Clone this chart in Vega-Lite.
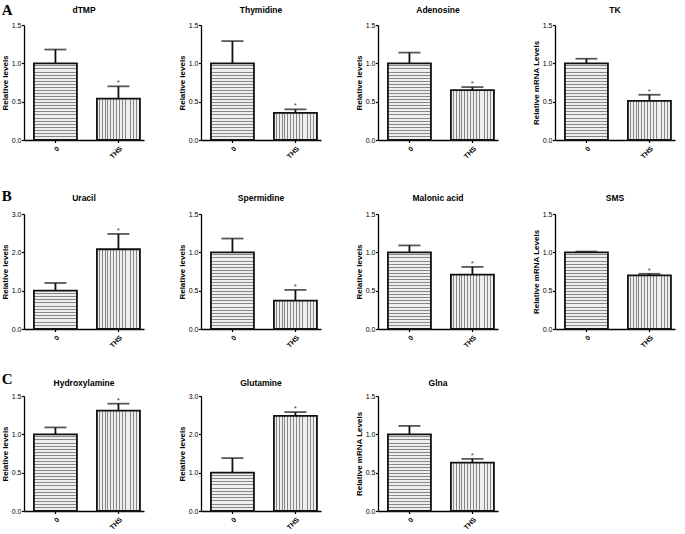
{
"$schema":"https://vega.github.io/schema/vega-lite/v6.json",
"background":"white",
"padding":{"left":1,"top":2,"right":2,"bottom":1},
"params":[
{"name":"h25","value":{"gradient":"linear","x1":0,"y1":0,"x2":0,"y2":1,"stops":[
{"offset":0,"color":"#eee"},{"offset":0.027,"color":"#eee"},{"offset":0.027,"color":"#888"},{"offset":0.04,"color":"#888"},
{"offset":0.04,"color":"#eee"},{"offset":0.067,"color":"#eee"},{"offset":0.067,"color":"#888"},{"offset":0.08,"color":"#888"},
{"offset":0.08,"color":"#eee"},{"offset":0.107,"color":"#eee"},{"offset":0.107,"color":"#888"},{"offset":0.12,"color":"#888"},
{"offset":0.12,"color":"#eee"},{"offset":0.147,"color":"#eee"},{"offset":0.147,"color":"#888"},{"offset":0.16,"color":"#888"},
{"offset":0.16,"color":"#eee"},{"offset":0.187,"color":"#eee"},{"offset":0.187,"color":"#888"},{"offset":0.2,"color":"#888"},
{"offset":0.2,"color":"#eee"},{"offset":0.227,"color":"#eee"},{"offset":0.227,"color":"#888"},{"offset":0.24,"color":"#888"},
{"offset":0.24,"color":"#eee"},{"offset":0.267,"color":"#eee"},{"offset":0.267,"color":"#888"},{"offset":0.28,"color":"#888"},
{"offset":0.28,"color":"#eee"},{"offset":0.307,"color":"#eee"},{"offset":0.307,"color":"#888"},{"offset":0.32,"color":"#888"},
{"offset":0.32,"color":"#eee"},{"offset":0.347,"color":"#eee"},{"offset":0.347,"color":"#888"},{"offset":0.36,"color":"#888"},
{"offset":0.36,"color":"#eee"},{"offset":0.387,"color":"#eee"},{"offset":0.387,"color":"#888"},{"offset":0.4,"color":"#888"},
{"offset":0.4,"color":"#eee"},{"offset":0.427,"color":"#eee"},{"offset":0.427,"color":"#888"},{"offset":0.44,"color":"#888"},
{"offset":0.44,"color":"#eee"},{"offset":0.467,"color":"#eee"},{"offset":0.467,"color":"#888"},{"offset":0.48,"color":"#888"},
{"offset":0.48,"color":"#eee"},{"offset":0.507,"color":"#eee"},{"offset":0.507,"color":"#888"},{"offset":0.52,"color":"#888"},
{"offset":0.52,"color":"#eee"},{"offset":0.547,"color":"#eee"},{"offset":0.547,"color":"#888"},{"offset":0.56,"color":"#888"},
{"offset":0.56,"color":"#eee"},{"offset":0.587,"color":"#eee"},{"offset":0.587,"color":"#888"},{"offset":0.6,"color":"#888"},
{"offset":0.6,"color":"#eee"},{"offset":0.627,"color":"#eee"},{"offset":0.627,"color":"#888"},{"offset":0.64,"color":"#888"},
{"offset":0.64,"color":"#eee"},{"offset":0.667,"color":"#eee"},{"offset":0.667,"color":"#888"},{"offset":0.68,"color":"#888"},
{"offset":0.68,"color":"#eee"},{"offset":0.707,"color":"#eee"},{"offset":0.707,"color":"#888"},{"offset":0.72,"color":"#888"},
{"offset":0.72,"color":"#eee"},{"offset":0.747,"color":"#eee"},{"offset":0.747,"color":"#888"},{"offset":0.76,"color":"#888"},
{"offset":0.76,"color":"#eee"},{"offset":0.787,"color":"#eee"},{"offset":0.787,"color":"#888"},{"offset":0.8,"color":"#888"},
{"offset":0.8,"color":"#eee"},{"offset":0.827,"color":"#eee"},{"offset":0.827,"color":"#888"},{"offset":0.84,"color":"#888"},
{"offset":0.84,"color":"#eee"},{"offset":0.867,"color":"#eee"},{"offset":0.867,"color":"#888"},{"offset":0.88,"color":"#888"},
{"offset":0.88,"color":"#eee"},{"offset":0.907,"color":"#eee"},{"offset":0.907,"color":"#888"},{"offset":0.92,"color":"#888"},
{"offset":0.92,"color":"#eee"},{"offset":0.947,"color":"#eee"},{"offset":0.947,"color":"#888"},{"offset":0.96,"color":"#888"},
{"offset":0.96,"color":"#eee"},{"offset":0.987,"color":"#eee"},{"offset":0.987,"color":"#888"},{"offset":1,"color":"#888"}]}},
{"name":"h12","value":{"gradient":"linear","x1":0,"y1":0,"x2":0,"y2":1,"stops":[
{"offset":0,"color":"#eee"},{"offset":0.056,"color":"#eee"},{"offset":0.056,"color":"#888"},{"offset":0.083,"color":"#888"},
{"offset":0.083,"color":"#eee"},{"offset":0.139,"color":"#eee"},{"offset":0.139,"color":"#888"},{"offset":0.167,"color":"#888"},
{"offset":0.167,"color":"#eee"},{"offset":0.222,"color":"#eee"},{"offset":0.222,"color":"#888"},{"offset":0.25,"color":"#888"},
{"offset":0.25,"color":"#eee"},{"offset":0.306,"color":"#eee"},{"offset":0.306,"color":"#888"},{"offset":0.333,"color":"#888"},
{"offset":0.333,"color":"#eee"},{"offset":0.389,"color":"#eee"},{"offset":0.389,"color":"#888"},{"offset":0.417,"color":"#888"},
{"offset":0.417,"color":"#eee"},{"offset":0.472,"color":"#eee"},{"offset":0.472,"color":"#888"},{"offset":0.5,"color":"#888"},
{"offset":0.5,"color":"#eee"},{"offset":0.556,"color":"#eee"},{"offset":0.556,"color":"#888"},{"offset":0.583,"color":"#888"},
{"offset":0.583,"color":"#eee"},{"offset":0.639,"color":"#eee"},{"offset":0.639,"color":"#888"},{"offset":0.667,"color":"#888"},
{"offset":0.667,"color":"#eee"},{"offset":0.722,"color":"#eee"},{"offset":0.722,"color":"#888"},{"offset":0.75,"color":"#888"},
{"offset":0.75,"color":"#eee"},{"offset":0.806,"color":"#eee"},{"offset":0.806,"color":"#888"},{"offset":0.833,"color":"#888"},
{"offset":0.833,"color":"#eee"},{"offset":0.889,"color":"#eee"},{"offset":0.889,"color":"#888"},{"offset":0.917,"color":"#888"},
{"offset":0.917,"color":"#eee"},{"offset":0.972,"color":"#eee"},{"offset":0.972,"color":"#888"},{"offset":1,"color":"#888"}]}},
{"name":"v15","value":{"gradient":"linear","x1":0,"y1":0,"x2":1,"y2":0,"stops":[
{"offset":0,"color":"#eee"},{"offset":0.044,"color":"#eee"},{"offset":0.044,"color":"#888"},{"offset":0.067,"color":"#888"},
{"offset":0.067,"color":"#eee"},{"offset":0.111,"color":"#eee"},{"offset":0.111,"color":"#888"},{"offset":0.133,"color":"#888"},
{"offset":0.133,"color":"#eee"},{"offset":0.178,"color":"#eee"},{"offset":0.178,"color":"#888"},{"offset":0.2,"color":"#888"},
{"offset":0.2,"color":"#eee"},{"offset":0.244,"color":"#eee"},{"offset":0.244,"color":"#888"},{"offset":0.267,"color":"#888"},
{"offset":0.267,"color":"#eee"},{"offset":0.311,"color":"#eee"},{"offset":0.311,"color":"#888"},{"offset":0.333,"color":"#888"},
{"offset":0.333,"color":"#eee"},{"offset":0.378,"color":"#eee"},{"offset":0.378,"color":"#888"},{"offset":0.4,"color":"#888"},
{"offset":0.4,"color":"#eee"},{"offset":0.444,"color":"#eee"},{"offset":0.444,"color":"#888"},{"offset":0.467,"color":"#888"},
{"offset":0.467,"color":"#eee"},{"offset":0.511,"color":"#eee"},{"offset":0.511,"color":"#888"},{"offset":0.533,"color":"#888"},
{"offset":0.533,"color":"#eee"},{"offset":0.578,"color":"#eee"},{"offset":0.578,"color":"#888"},{"offset":0.6,"color":"#888"},
{"offset":0.6,"color":"#eee"},{"offset":0.644,"color":"#eee"},{"offset":0.644,"color":"#888"},{"offset":0.667,"color":"#888"},
{"offset":0.667,"color":"#eee"},{"offset":0.711,"color":"#eee"},{"offset":0.711,"color":"#888"},{"offset":0.733,"color":"#888"},
{"offset":0.733,"color":"#eee"},{"offset":0.778,"color":"#eee"},{"offset":0.778,"color":"#888"},{"offset":0.8,"color":"#888"},
{"offset":0.8,"color":"#eee"},{"offset":0.844,"color":"#eee"},{"offset":0.844,"color":"#888"},{"offset":0.867,"color":"#888"},
{"offset":0.867,"color":"#eee"},{"offset":0.911,"color":"#eee"},{"offset":0.911,"color":"#888"},{"offset":0.933,"color":"#888"},
{"offset":0.933,"color":"#eee"},{"offset":0.978,"color":"#eee"},{"offset":0.978,"color":"#888"},{"offset":1,"color":"#888"}]}}
],
"data":{"values":[
{"panel":"dTMP","group":"0","value":1.0,"upper":1.18,"sig":""},
{"panel":"dTMP","group":"THS","value":0.54,"upper":0.70,"sig":"*"},
{"panel":"Thymidine","group":"0","value":1.0,"upper":1.29,"sig":""},
{"panel":"Thymidine","group":"THS","value":0.355,"upper":0.40,"sig":"*"},
{"panel":"Adenosine","group":"0","value":1.0,"upper":1.14,"sig":""},
{"panel":"Adenosine","group":"THS","value":0.65,"upper":0.69,"sig":"*"},
{"panel":"TK","group":"0","value":1.0,"upper":1.06,"sig":""},
{"panel":"TK","group":"THS","value":0.51,"upper":0.59,"sig":"*"},
{"panel":"Uracil","group":"0","value":1.0,"upper":1.2,"sig":""},
{"panel":"Uracil","group":"THS","value":2.08,"upper":2.48,"sig":"*"},
{"panel":"Spermidine","group":"0","value":1.0,"upper":1.18,"sig":""},
{"panel":"Spermidine","group":"THS","value":0.37,"upper":0.51,"sig":"*"},
{"panel":"Malonic acid","group":"0","value":1.0,"upper":1.09,"sig":""},
{"panel":"Malonic acid","group":"THS","value":0.71,"upper":0.81,"sig":"*"},
{"panel":"SMS","group":"0","value":1.0,"upper":1.01,"sig":""},
{"panel":"SMS","group":"THS","value":0.70,"upper":0.72,"sig":"*"},
{"panel":"Hydroxylamine","group":"0","value":1.0,"upper":1.09,"sig":""},
{"panel":"Hydroxylamine","group":"THS","value":1.31,"upper":1.40,"sig":"*"},
{"panel":"Glutamine","group":"0","value":1.0,"upper":1.38,"sig":""},
{"panel":"Glutamine","group":"THS","value":2.48,"upper":2.58,"sig":"*"},
{"panel":"Glna","group":"0","value":1.0,"upper":1.11,"sig":""},
{"panel":"Glna","group":"THS","value":0.63,"upper":0.68,"sig":"*"}
]},
"spacing":28,
"vconcat":[
{"title":{"text":"A","anchor":"start","frame":"bounds","font":"Liberation Serif","fontSize":15,"fontWeight":"bold","offset":0,"dy":12},
 "spacing":34,
 "hconcat":[
  {"title":{"text":"dTMP","offset":7},"width":120,"height":115,"transform":[{"filter":"datum.panel=='dTMP'"}],
   "encoding":{"x":{"field":"group","type":"nominal","title":null,"scale":{"align":0.71}},
     "y":{"field":"value","type":"quantitative","title":"Relative levels","scale":{"domain":[0,1.5],"nice":false}}},
   "layer":[
    {"transform":[{"filter":"datum.group=='0'"}],"mark":{"type":"bar","fill":{"expr":"h25"}}},
    {"transform":[{"filter":"datum.group=='THS'"}],"mark":{"type":"bar","fill":{"expr":"v15"}}},
    {"mark":"rule","encoding":{"y2":{"field":"upper"}}},
    {"mark":{"type":"tick","size":22},"encoding":{"y":{"field":"upper","type":"quantitative"}}},
    {"mark":"text","encoding":{"y":{"field":"upper","type":"quantitative"},"text":{"field":"sig"}}}]},
  {"title":{"text":"Thymidine","offset":7},"width":120,"height":115,"transform":[{"filter":"datum.panel=='Thymidine'"}],
   "encoding":{"x":{"field":"group","type":"nominal","title":null,"scale":{"align":0.71}},
     "y":{"field":"value","type":"quantitative","title":"Relative levels","scale":{"domain":[0,1.5],"nice":false}}},
   "layer":[
    {"transform":[{"filter":"datum.group=='0'"}],"mark":{"type":"bar","fill":{"expr":"h25"}}},
    {"transform":[{"filter":"datum.group=='THS'"}],"mark":{"type":"bar","fill":{"expr":"v15"}}},
    {"mark":"rule","encoding":{"y2":{"field":"upper"}}},
    {"mark":{"type":"tick","size":22},"encoding":{"y":{"field":"upper","type":"quantitative"}}},
    {"mark":"text","encoding":{"y":{"field":"upper","type":"quantitative"},"text":{"field":"sig"}}}]},
  {"title":{"text":"Adenosine","offset":7},"width":120,"height":115,"transform":[{"filter":"datum.panel=='Adenosine'"}],
   "encoding":{"x":{"field":"group","type":"nominal","title":null,"scale":{"align":0.71}},
     "y":{"field":"value","type":"quantitative","title":"Relative levels","scale":{"domain":[0,1.5],"nice":false}}},
   "layer":[
    {"transform":[{"filter":"datum.group=='0'"}],"mark":{"type":"bar","fill":{"expr":"h25"}}},
    {"transform":[{"filter":"datum.group=='THS'"}],"mark":{"type":"bar","fill":{"expr":"v15"}}},
    {"mark":"rule","encoding":{"y2":{"field":"upper"}}},
    {"mark":{"type":"tick","size":22},"encoding":{"y":{"field":"upper","type":"quantitative"}}},
    {"mark":"text","encoding":{"y":{"field":"upper","type":"quantitative"},"text":{"field":"sig"}}}]},
  {"title":{"text":"TK","offset":7},"width":120,"height":115,"transform":[{"filter":"datum.panel=='TK'"}],
   "encoding":{"x":{"field":"group","type":"nominal","title":null,"scale":{"align":0.71}},
     "y":{"field":"value","type":"quantitative","title":"Relative mRNA Levels","scale":{"domain":[0,1.5],"nice":false}}},
   "layer":[
    {"transform":[{"filter":"datum.group=='0'"}],"mark":{"type":"bar","fill":{"expr":"h25"}}},
    {"transform":[{"filter":"datum.group=='THS'"}],"mark":{"type":"bar","fill":{"expr":"v15"}}},
    {"mark":"rule","encoding":{"y2":{"field":"upper"}}},
    {"mark":{"type":"tick","size":22},"encoding":{"y":{"field":"upper","type":"quantitative"}}},
    {"mark":"text","encoding":{"y":{"field":"upper","type":"quantitative"},"text":{"field":"sig"}}}]}
 ]},
{"spacing":22,
 "vconcat":[
{"title":{"text":"B","anchor":"start","frame":"bounds","font":"Liberation Serif","fontSize":15,"fontWeight":"bold","offset":0,"dy":10},
 "spacing":34,
 "hconcat":[
  {"title":{"text":"Uracil","offset":8},"width":120,"height":115,"transform":[{"filter":"datum.panel=='Uracil'"}],
   "encoding":{"x":{"field":"group","type":"nominal","title":null,"scale":{"align":0.71}},
     "y":{"field":"value","type":"quantitative","title":"Relative levels","scale":{"domain":[0,3],"nice":false}}},
   "layer":[
    {"transform":[{"filter":"datum.group=='0'"}],"mark":{"type":"bar","fill":{"expr":"h12"}}},
    {"transform":[{"filter":"datum.group=='THS'"}],"mark":{"type":"bar","fill":{"expr":"v15"}}},
    {"mark":"rule","encoding":{"y2":{"field":"upper"}}},
    {"mark":{"type":"tick","size":22},"encoding":{"y":{"field":"upper","type":"quantitative"}}},
    {"mark":"text","encoding":{"y":{"field":"upper","type":"quantitative"},"text":{"field":"sig"}}}]},
  {"title":{"text":"Spermidine","offset":8},"width":120,"height":115,"transform":[{"filter":"datum.panel=='Spermidine'"}],
   "encoding":{"x":{"field":"group","type":"nominal","title":null,"scale":{"align":0.71}},
     "y":{"field":"value","type":"quantitative","title":"Relative levels","scale":{"domain":[0,1.5],"nice":false}}},
   "layer":[
    {"transform":[{"filter":"datum.group=='0'"}],"mark":{"type":"bar","fill":{"expr":"h25"}}},
    {"transform":[{"filter":"datum.group=='THS'"}],"mark":{"type":"bar","fill":{"expr":"v15"}}},
    {"mark":"rule","encoding":{"y2":{"field":"upper"}}},
    {"mark":{"type":"tick","size":22},"encoding":{"y":{"field":"upper","type":"quantitative"}}},
    {"mark":"text","encoding":{"y":{"field":"upper","type":"quantitative"},"text":{"field":"sig"}}}]},
  {"title":{"text":"Malonic acid","offset":8},"width":120,"height":115,"transform":[{"filter":"datum.panel=='Malonic acid'"}],
   "encoding":{"x":{"field":"group","type":"nominal","title":null,"scale":{"align":0.71}},
     "y":{"field":"value","type":"quantitative","title":"Relative levels","scale":{"domain":[0,1.5],"nice":false}}},
   "layer":[
    {"transform":[{"filter":"datum.group=='0'"}],"mark":{"type":"bar","fill":{"expr":"h25"}}},
    {"transform":[{"filter":"datum.group=='THS'"}],"mark":{"type":"bar","fill":{"expr":"v15"}}},
    {"mark":"rule","encoding":{"y2":{"field":"upper"}}},
    {"mark":{"type":"tick","size":22},"encoding":{"y":{"field":"upper","type":"quantitative"}}},
    {"mark":"text","encoding":{"y":{"field":"upper","type":"quantitative"},"text":{"field":"sig"}}}]},
  {"title":{"text":"SMS","offset":8},"width":120,"height":115,"transform":[{"filter":"datum.panel=='SMS'"}],
   "encoding":{"x":{"field":"group","type":"nominal","title":null,"scale":{"align":0.71}},
     "y":{"field":"value","type":"quantitative","title":"Relative mRNA Levels","scale":{"domain":[0,1.5],"nice":false}}},
   "layer":[
    {"transform":[{"filter":"datum.group=='0'"}],"mark":{"type":"bar","fill":{"expr":"h25"}}},
    {"transform":[{"filter":"datum.group=='THS'"}],"mark":{"type":"bar","fill":{"expr":"v15"}}},
    {"mark":"rule","encoding":{"y2":{"field":"upper"}}},
    {"mark":{"type":"tick","size":22},"encoding":{"y":{"field":"upper","type":"quantitative"}}},
    {"mark":"text","encoding":{"y":{"field":"upper","type":"quantitative"},"text":{"field":"sig"}}}]}
 ]},
{"title":{"text":"C","anchor":"start","frame":"bounds","font":"Liberation Serif","fontSize":15,"fontWeight":"bold","offset":0,"dy":8},
 "spacing":34,
 "hconcat":[
  {"title":{"text":"Hydroxylamine","offset":5},"width":120,"height":115,"transform":[{"filter":"datum.panel=='Hydroxylamine'"}],
   "encoding":{"x":{"field":"group","type":"nominal","title":null,"scale":{"align":0.71}},
     "y":{"field":"value","type":"quantitative","title":"Relative levels","scale":{"domain":[0,1.5],"nice":false}}},
   "layer":[
    {"transform":[{"filter":"datum.group=='0'"}],"mark":{"type":"bar","fill":{"expr":"h25"}}},
    {"transform":[{"filter":"datum.group=='THS'"}],"mark":{"type":"bar","fill":{"expr":"v15"}}},
    {"mark":"rule","encoding":{"y2":{"field":"upper"}}},
    {"mark":{"type":"tick","size":22},"encoding":{"y":{"field":"upper","type":"quantitative"}}},
    {"mark":"text","encoding":{"y":{"field":"upper","type":"quantitative"},"text":{"field":"sig"}}}]},
  {"title":{"text":"Glutamine","offset":5},"width":120,"height":115,"transform":[{"filter":"datum.panel=='Glutamine'"}],
   "encoding":{"x":{"field":"group","type":"nominal","title":null,"scale":{"align":0.71}},
     "y":{"field":"value","type":"quantitative","title":"Relative levels","scale":{"domain":[0,3],"nice":false}}},
   "layer":[
    {"transform":[{"filter":"datum.group=='0'"}],"mark":{"type":"bar","fill":{"expr":"h12"}}},
    {"transform":[{"filter":"datum.group=='THS'"}],"mark":{"type":"bar","fill":{"expr":"v15"}}},
    {"mark":"rule","encoding":{"y2":{"field":"upper"}}},
    {"mark":{"type":"tick","size":22},"encoding":{"y":{"field":"upper","type":"quantitative"}}},
    {"mark":"text","encoding":{"y":{"field":"upper","type":"quantitative"},"text":{"field":"sig"}}}]},
  {"title":{"text":"Glna","offset":5},"width":120,"height":115,"transform":[{"filter":"datum.panel=='Glna'"}],
   "encoding":{"x":{"field":"group","type":"nominal","title":null,"scale":{"align":0.71}},
     "y":{"field":"value","type":"quantitative","title":"Relative mRNA Levels","scale":{"domain":[0,1.5],"nice":false}}},
   "layer":[
    {"transform":[{"filter":"datum.group=='0'"}],"mark":{"type":"bar","fill":{"expr":"h25"}}},
    {"transform":[{"filter":"datum.group=='THS'"}],"mark":{"type":"bar","fill":{"expr":"v15"}}},
    {"mark":"rule","encoding":{"y2":{"field":"upper"}}},
    {"mark":{"type":"tick","size":22},"encoding":{"y":{"field":"upper","type":"quantitative"}}},
    {"mark":"text","encoding":{"y":{"field":"upper","type":"quantitative"},"text":{"field":"sig"}}}]}
 ]}
 ]}
],
"config":{
 "view":{"stroke":null},
 "numberFormat":".1f",
 "scale":{"bandPaddingInner":0.317,"bandPaddingOuter":0.111},
 "axis":{"grid":false,"domainColor":"#000","tickColor":"#000","labelColor":"#000","titleColor":"#000","labelFont":"Liberation Sans","titleFont":"Liberation Sans","labelFontSize":7,"titleFontSize":8,"titleFontWeight":"bold","tickSize":2.5,"domainWidth":1.3,"tickWidth":1.2},
 "axisY":{"tickCount":3,"labelPadding":0.5,"titlePadding":1.5},
 "axisX":{"labelAngle":-45,"labelFontWeight":"bold","labelPadding":2},
 "title":{"font":"Liberation Sans","fontSize":8.5,"fontWeight":"bold","color":"#000"},
 "bar":{"stroke":"#111","strokeWidth":1.8},
 "rule":{"strokeWidth":1.8,"color":"#111"},
 "tick":{"thickness":1.8,"color":"#111"},
 "text":{"fontSize":8,"color":"#444","baseline":"bottom","dy":1,"font":"Liberation Sans"}
}
}
